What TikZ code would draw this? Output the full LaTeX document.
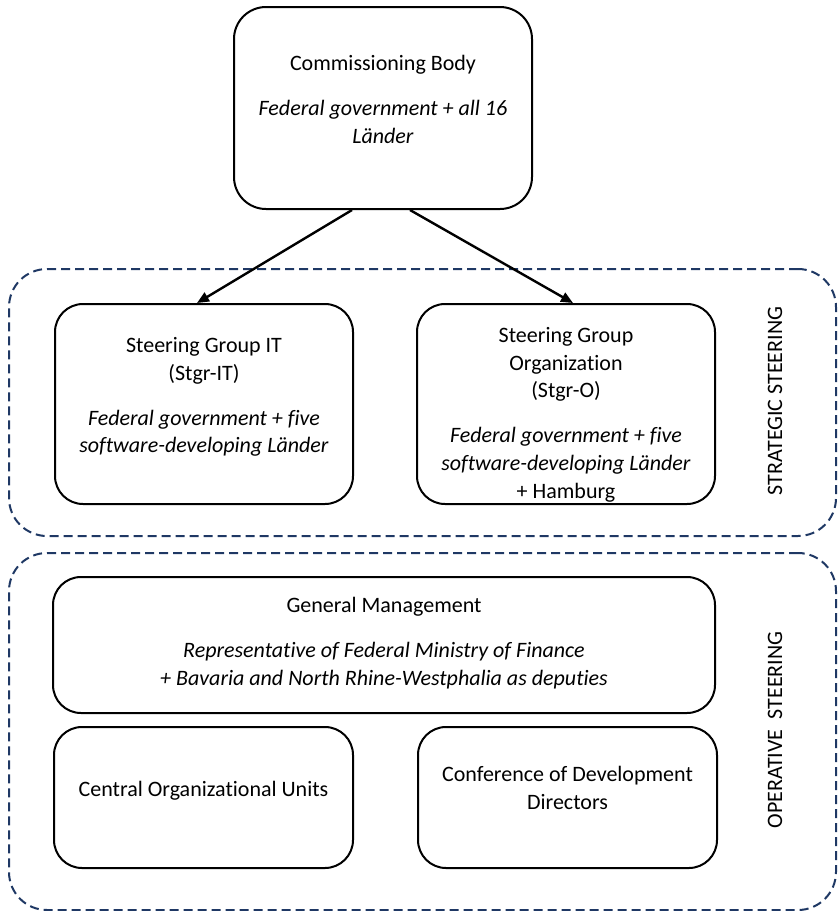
\documentclass[tikz,border=0pt]{standalone}
\usepackage{fontspec}
\setmainfont{Carlito}[Ligatures=NoCommon]
\usetikzlibrary{arrows.meta, positioning}
\definecolor{dashblue}{RGB}{31,56,100}

\begin{document}
\begin{tikzpicture}[
    x=0.5pt, y=-0.5pt,
    every node/.style={font=\fontsize{11}{13.8}\selectfont},
    box/.style={rectangle, draw, line width=1pt, anchor=north, minimum width=149pt, rounded corners=14pt},
    txt/.style={align=center, inner sep=0pt},
    group/.style={rectangle, draw=dashblue, line width=1pt, dash pattern=on 4.5pt off 2.5pt, anchor=north west, minimum width=413.5pt, rounded corners=19pt},
    arrow/.style={-{Triangle[length=6pt, width=5pt]}, line width=1.2pt},
    side/.style={rotate=90, inner sep=0pt}
]
\useasboundingbox (0,0) rectangle (837,911);

% ============ GROUPS ============
\node[group, minimum height=133.5pt] (strat) at (8,268) {};
\node[group, minimum height=178.5pt] (oper) at (8,552) {};

\node[side] (stratlbl) at (775,401) {STRATEGIC STEERING};
\node[side] (operlbl) at (775,730) {OPERATIVE~ STEERING};

% ============ COMMISSIONING BODY ============
\node[box, minimum height=101pt, rounded corners=16pt] (cb) at (383,6) {};
\node[txt, below=24.5pt of cb.north] (cbtext) {
    Commissioning Body\\[8.8pt]
    \textit{Federal government + all 16}\\
    \textit{Länder}
};

% ============ STRATEGIC STEERING ============
\node[box, minimum height=100pt] (sgit) at (204,303) {};
\node[txt, below=17pt of sgit.north] (sgittext) {
    Steering Group IT\\
    (Stgr-IT)\\[8.8pt]
    \textit{Federal government + five}\\
    \textit{software-developing Länder}
};

\node[box, minimum height=100pt] (sgo) at (566,303) {};
\node[txt, below=12pt of sgo.north] (sgotext) {
    Steering Group\\
    Organization\\
    (Stgr-O)\\[8.8pt]
    \textit{Federal government + five}\\
    \textit{software-developing Länder}\\
    + Hamburg
};

% Commissioning body to steering groups
\draw[arrow] ([xshift=-15.5pt]cb.south) -- ([xshift=-3.5pt]sgit.north);
\draw[arrow] ([xshift=13.5pt]cb.south) -- ([xshift=3.5pt]sgo.north);

% ============ OPERATIVE STEERING ============
\node[box, minimum width=331pt, minimum height=68pt] (gm) at (384,576) {};
\node[txt, below=10.5pt of gm.north] (gmtext) {
    General Management\\[8.8pt]
    \textit{Representative of Federal Ministry of Finance}\\
    \textit{+ Bavaria and North Rhine-Westphalia as deputies}
};

\node[box, minimum width=149.5pt, minimum height=70.5pt] (cou) at (203.5,726) {};
\node[txt, below=27.5pt of cou.north] (coutext) {Central Organizational Units};

\node[box, minimum width=149.5pt, minimum height=70.5pt] (cdd) at (567.5,726) {};
\node[txt, below=20pt of cdd.north] (cddtext) {
    Conference of Development\\
    Directors
};

\end{tikzpicture}
\end{document}
